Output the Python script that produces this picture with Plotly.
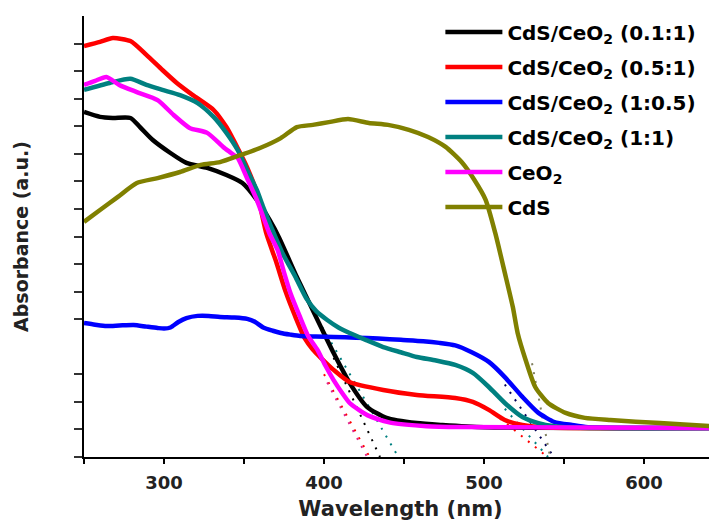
import plotly.graph_objects as go

# ---------------- data ----------------
wl_black = [250, 260, 268, 279, 285, 293, 304, 314, 327, 339, 349, 358, 366, 372, 383, 389, 398, 406, 416, 427, 439, 458, 474, 500, 650]
ab_black = [1.252, 1.234, 1.230, 1.230, 1.197, 1.150, 1.103, 1.067, 1.049, 1.023, 0.994, 0.933, 0.860, 0.795, 0.653, 0.581, 0.472, 0.377, 0.269, 0.181, 0.142, 0.123, 0.116, 0.108, 0.105]

wl_red = [250, 260, 268, 279, 289, 299, 308, 318, 331, 339, 346, 352, 358, 364, 370, 376, 382, 388, 393, 398, 406, 416, 437, 458, 482, 493, 503, 513, 524, 540, 650]
ab_red = [1.491, 1.506, 1.520, 1.509, 1.459, 1.404, 1.357, 1.313, 1.259, 1.197, 1.121, 1.050, 0.960, 0.810, 0.710, 0.600, 0.510, 0.430, 0.390, 0.360, 0.316, 0.272, 0.243, 0.225, 0.214, 0.200, 0.171, 0.134, 0.116, 0.107, 0.105]

wl_blue = [250, 257, 264, 272, 281, 289, 296, 300, 304, 309, 314, 321, 328, 335, 344, 352, 357, 362, 368, 373, 379, 385, 395, 406, 420, 434, 448, 462, 472, 482, 492, 503, 513, 524, 534, 544, 555, 565, 650]
ab_blue = [0.486, 0.480, 0.475, 0.477, 0.479, 0.473, 0.468, 0.466, 0.470, 0.490, 0.504, 0.512, 0.512, 0.508, 0.506, 0.501, 0.490, 0.470, 0.458, 0.450, 0.444, 0.439, 0.437, 0.435, 0.433, 0.430, 0.425, 0.420, 0.414, 0.405, 0.381, 0.345, 0.290, 0.218, 0.160, 0.127, 0.116, 0.108, 0.105]

wl_teal = [250, 266, 279, 289, 299, 310, 321, 331, 339, 346, 352, 358, 362, 368, 374, 382, 389, 395, 402, 409, 416, 426, 437, 448, 458, 470, 482, 493, 503, 513, 524, 534, 544, 560, 650]
ab_teal = [1.332, 1.357, 1.372, 1.350, 1.332, 1.313, 1.284, 1.234, 1.176, 1.114, 1.040, 0.969, 0.907, 0.820, 0.740, 0.655, 0.575, 0.530, 0.497, 0.470, 0.450, 0.425, 0.399, 0.380, 0.363, 0.350, 0.334, 0.305, 0.254, 0.196, 0.145, 0.123, 0.112, 0.106, 0.105]

wl_ceo2 = [250, 257, 264, 272, 283, 296, 306, 316, 327, 337, 341, 346, 352, 358, 362, 366, 371, 375, 379, 385, 390, 396, 401, 406, 411, 416, 422, 427, 435, 443, 464, 485, 650]
ab_ceo2 = [1.350, 1.365, 1.379, 1.350, 1.324, 1.295, 1.241, 1.194, 1.176, 1.125, 1.107, 1.085, 1.010, 0.933, 0.871, 0.810, 0.751, 0.670, 0.595, 0.508, 0.440, 0.388, 0.330, 0.279, 0.235, 0.196, 0.170, 0.152, 0.135, 0.123, 0.112, 0.109, 0.105]

wl_cds = [250, 260, 271, 283, 296, 310, 323, 335, 348, 360, 373, 383, 393, 403, 415, 428, 440, 453, 465, 476, 486, 494, 501, 507, 513, 518, 521, 526, 532, 540, 551, 563, 579, 610, 641, 650]
ab_cds = [0.853, 0.896, 0.943, 0.994, 1.012, 1.034, 1.060, 1.070, 1.096, 1.121, 1.157, 1.197, 1.205, 1.215, 1.226, 1.212, 1.205, 1.187, 1.161, 1.125, 1.070, 1.005, 0.933, 0.813, 0.668, 0.544, 0.450, 0.352, 0.254, 0.196, 0.160, 0.142, 0.134, 0.123, 0.112, 0.110]

# band-edge extrapolation (tangent) lines: start/end wavelength and absorbance
tan_wl = [(396, 446.5), (400, 428.5), (402, 427.0), (406, 435.0), (510, 539.7), (513, 540.0), (513, 543.6), (530, 541.3)]
tan_ab = [(0.50, 0.0), (0.30, 0.0), (0.27, 0.0), (0.36, 0.0), (0.14, 0.0), (0.175, 0.0), (0.263, 0.0), (0.34, 0.0)]
tan_colors = ["#008080", "#FF0000", "#E0208A", "#000000", "#FF0000", "#008080", "#000055", "#808060"]

names = ["CdS/CeO<sub>2</sub> (0.1:1)", "CdS/CeO<sub>2</sub> (0.5:1)", "CdS/CeO<sub>2</sub> (1:0.5)",
         "CdS/CeO<sub>2</sub> (1:1)", "CeO<sub>2</sub>", "CdS"]
colors = ["#000000", "#FF0000", "#0000FF", "#008080", "#FF00FF", "#808000"]
series_wl = [wl_black, wl_red, wl_blue, wl_teal, wl_ceo2, wl_cds]
series_ab = [ab_black, ab_red, ab_blue, ab_teal, ab_ceo2, ab_cds]

x_ticks = [250, 300, 350, 400, 450, 500, 550, 600]
x_ticktext = ["", "300", "", "400", "", "500", "", "600"]
top_ticks = [290, 330, 370, 410, 450, 490, 530, 570, 610]
y_ticks = [0, 0.1, 0.2, 0.3, 0.5, 0.6, 0.7, 0.8, 0.9, 1.0, 1.1, 1.2, 1.3, 1.4, 1.5]
right_ticks = [0.316, 0.642, 0.958, 1.277]

FONT = "DejaVu Sans"

fig = go.Figure()

for w, a, c in zip(tan_wl, tan_ab, tan_colors):
    fig.add_trace(go.Scatter(x=list(w), y=list(a), mode="lines", showlegend=False, hoverinfo="skip",
                             line=dict(color=c, width=2, dash="2px,7px")))

for i, (n, c, w, a) in enumerate(zip(names, colors, series_wl, series_ab)):
    fig.add_trace(go.Scatter(x=w, y=a, mode="lines", name=n, legendgroup=f"g{i}",
                             line=dict(color=c, width=4.5, shape="spline", smoothing=0.6)))

# the page body has an 8 px margin, so the figure is sized to fill the rest of the window
fig.update_layout(
    width=709, height=515,
    margin=dict(l=76, r=0, t=8, b=66),
    paper_bgcolor="white", plot_bgcolor="white",
    showlegend=True,
    legend=dict(x=0.563, y=1.008, xanchor="left", yanchor="top", bgcolor="rgba(0,0,0,0)",
                font=dict(family=FONT, size=20, color="black", weight="bold"),
                itemwidth=57, tracegroupgap=6, traceorder="grouped"),
    xaxis=dict(range=[250, 645.6], tickmode="array", tickvals=x_ticks, ticktext=x_ticktext,
               ticks="outside", ticklen=5, tickwidth=1.5, tickcolor="black",
               showline=True, linewidth=2, linecolor="black", mirror=False, automargin=False,
               showgrid=False, zeroline=False, ticklabelstandoff=3,
               tickfont=dict(family=FONT, size=18, color="#222", weight="bold"),
               title=dict(text="Wavelength (nm)", standoff=10,
                          font=dict(family=FONT, size=21, color="#222", weight="bold"))),
    yaxis=dict(range=[0, 1.6], tickmode="array", tickvals=y_ticks, showticklabels=False,
               ticks="outside", ticklen=8, tickwidth=1.5, tickcolor="#333", automargin=False,
               showline=True, linewidth=2, linecolor="black", mirror=False,
               showgrid=False, zeroline=False,
               title=dict(text="Absorbance (a.u.)", standoff=40,
                          font=dict(family=FONT, size=19, color="#222", weight="bold"))),
    xaxis2=dict(overlaying="x", side="top", range=[250, 645.6], tickmode="array", tickvals=top_ticks,
                showticklabels=False, ticks="inside", ticklen=7, tickwidth=1.5, tickcolor="black",
                automargin=False,
                showline=True, linewidth=2, linecolor="black", showgrid=False, zeroline=False),
    yaxis2=dict(overlaying="y", side="right", range=[0, 1.6], tickmode="array", tickvals=right_ticks,
                showticklabels=False, ticks="inside", ticklen=5, tickwidth=1.2, tickcolor="#444",
                automargin=False,
                showline=False, showgrid=False, zeroline=False),
)

fig.write_html("out.html")
